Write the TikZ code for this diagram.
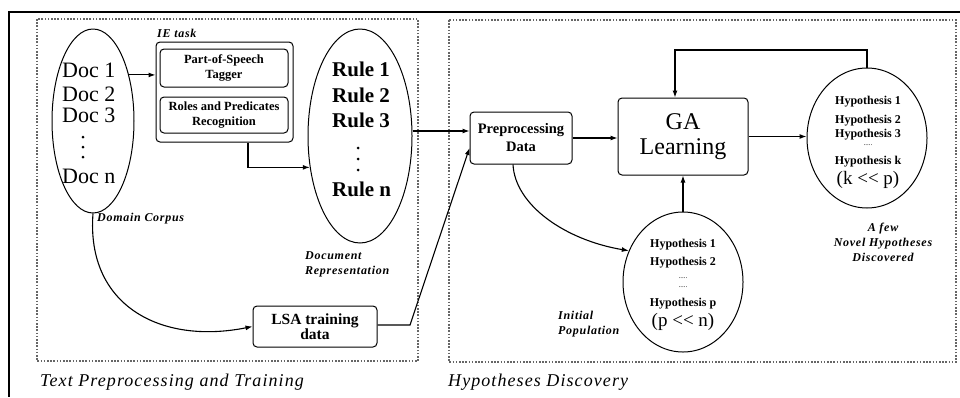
\documentclass[tikz,border=0pt]{standalone}
\usepackage{fontspec}
\setmainfont{Liberation Serif}
\newfontfamily\lsp[LetterSpace=6]{Liberation Serif}
\usetikzlibrary{shapes.geometric,arrows.meta}
\begin{document}
\begin{tikzpicture}[x=1pt,y=-1pt,
  arr/.style={-{Latex[length=7pt,width=5pt]}, line width=1.1pt},
  box/.style={draw, rounded corners=4pt, line width=1pt, align=center, inner sep=0pt},
  ell/.style={draw, ellipse, line width=1pt, inner sep=0pt},
  zone/.style={draw=black!60, line width=1.2pt, dash pattern=on 1.6pt off 1.6pt},
  lab/.style={font=\lsp\bfseries\itshape\fontsize{12}{15}\selectfont, inner sep=0pt},
  zonecaption/.style={font=\lsp\itshape\fontsize{18}{20}\selectfont, anchor=west, inner sep=0pt},
  doct/.style={font=\fontsize{22}{24}\selectfont, anchor=west, inner sep=0pt},
  rulet/.style={font=\bfseries\fontsize{21}{24}\selectfont, anchor=west, inner sep=0pt},
  hyp/.style={font=\bfseries\fontsize{12}{14}\selectfont, inner sep=0pt},
  rel/.style={font=\fontsize{19}{22}\selectfont, inner sep=0pt},
  sdots/.style={font=\fontsize{7}{7}\selectfont, inner sep=0pt},
  dotc/.style={fill=black, circle, inner sep=0pt, minimum size=3pt},
]
\useasboundingbox (0,0) rectangle (960,397);
\fill[white] (0,0) rectangle (960,397);

% frame
\draw[line width=2pt] (960,12) -- (9,12) -- (9,397);

% zones
\draw[zone] (37,19) rectangle (418,361);
\draw[zone] (449,20) rectangle (956,362);
\node[zonecaption] (cap1) at (40,382) {Text Preprocessing and Training};
\node[zonecaption] (cap2) at (448,382) {Hypotheses Discovery};

% documents
\node[ell, minimum width=82pt, minimum height=184pt] (docs) at (93,121) {};
\node[doct] (d1) at (62,70) {Doc 1};
\node[doct] (d2) at (62,94) {Doc 2};
\node[doct] (d3) at (62,115) {Doc 3};
\node[dotc] (dd1) at (83,137) {};
\node[dotc] (dd2) at (83,147) {};
\node[dotc] (dd3) at (83,157) {};
\node[doct] (dn) at (62,176) {Doc n};
\node[lab, anchor=west] (dc) at (97,219) {Domain Corpus};

% IE task
\node[lab, anchor=west] (iel) at (157,33) {IE task};
\node[box, minimum width=137pt, minimum height=100pt] (ie) at (224.5,92) {};
\node[box, minimum width=128pt, minimum height=38pt, font=\bfseries\fontsize{12.5}{14.5}\selectfont] (pos) at (224,68) {Part-of-Speech\\Tagger};
\node[box, minimum width=128pt, minimum height=36pt, font=\bfseries\fontsize{12.5}{15}\selectfont] (roles) at (224,115) {Roles and Predicates\\Recognition};

% rules
\node[ell, minimum width=104pt, minimum height=214pt] (rules) at (360,136) {};
\node[rulet] (r1) at (332,69) {Rule 1};
\node[rulet] (r2) at (332,95) {Rule 2};
\node[rulet] (r3) at (332,120) {Rule 3};
\node[dotc] (rd1) at (358,148) {};
\node[dotc] (rd2) at (358,159) {};
\node[dotc] (rd3) at (358,170) {};
\node[rulet] (rn) at (332,189) {Rule n};
\node[lab, anchor=west, align=left] (drl) at (305,264) {Document\\Representation};

% LSA
\node[box, minimum width=124pt, minimum height=41pt, font=\bfseries\fontsize{15.5}{15}\selectfont] (lsa) at (315,326.5) {LSA training\\data};

% preprocessing
\node[box, minimum width=102pt, minimum height=52pt, font=\bfseries\fontsize{14.5}{18}\selectfont] (pre) at (521,138) {Preprocessing\\Data};

% GA
\node[box, minimum width=130pt, minimum height=77pt, font=\fontsize{24}{25}\selectfont] (ga) at (683,136.5) {GA\\Learning};

% final hypotheses
\node[ell, minimum width=120pt, minimum height=140pt] (hk) at (867,138) {};
\node[hyp] (hk1) at (868,102) {Hypothesis 1};
\node[hyp] (hk2) at (868,121) {Hypothesis 2};
\node[hyp] (hk3) at (868,135) {Hypothesis 3};
\node[sdots] (hkd) at (868,145) {.....};
\node[hyp] (hkk) at (868,162) {Hypothesis k};
\node[rel] (hkr) at (868,180) {(k <{}< p)};
\node[lab, align=center] (fewl) at (883,242) {A few\\Novel Hypotheses\\Discovered};

% initial population
\node[ell, minimum width=120pt, minimum height=140pt] (pop) at (683,282) {};
\node[hyp] (p1) at (683,245) {Hypothesis 1};
\node[hyp] (p2) at (683,263) {Hypothesis 2};
\node[sdots] (pd1) at (683,278) {.....};
\node[sdots] (pd2) at (683,287) {.....};
\node[hyp] (pp) at (683,304) {Hypothesis p};
\node[rel] (pr) at (683,322) {(p <{}< n)};
\node[lab, anchor=west, align=left] (ipl) at (558,324.5) {Initial\\Population};

% connectors
\draw[arr] (docs.52) -- (docs.52 -| ie.west);
\draw[arr] ([xshift=23.5pt]ie.south) |- (rules.212);
\draw[arr] (docs.south) .. controls (86,305) and (160,345) .. (lsa.west);
\coordinate (pin) at ([yshift=7pt]pre.west);
\draw[arr] (rules.east |- pin) -- (pin);
\coordinate (lsak) at (410,325);
\draw[arr] (lsa.east |- lsak) -- (lsak) -- ([yshift=-10pt]pre.west);
\draw[arr] (pre.east) -- (pre.east -| ga.west);
\draw[arr] (ga.east) -- (ga.east -| hk.west);
\draw[arr] (pop.north) -- (pop.north |- ga.south);
\draw[arr] ([xshift=-8pt]pre.south) .. controls (515,205) and (565,240) .. (pop.150);
\coordinate (fbt) at (865,50);
\draw[arr] (hk.north) -- (hk.north |- fbt) -| ([xshift=-8pt]ga.north);
\end{tikzpicture}
\end{document}
